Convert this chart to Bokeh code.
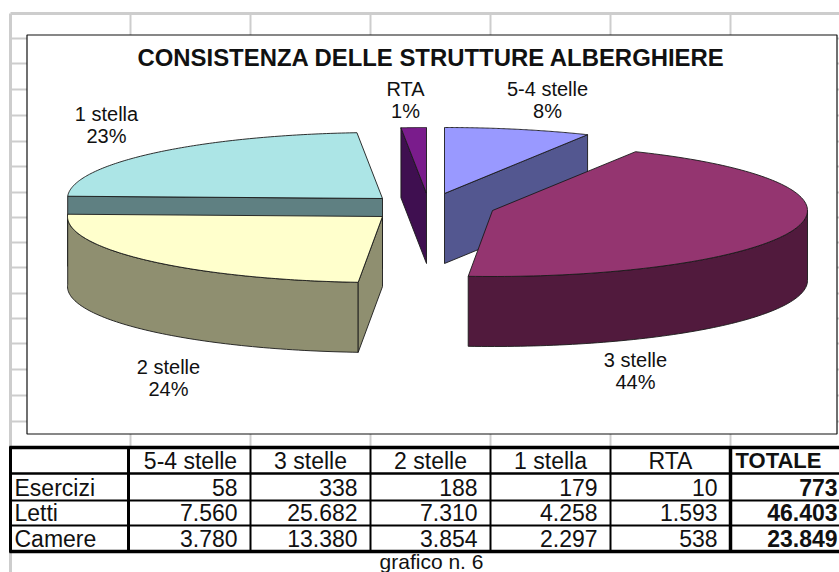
from bokeh.plotting import figure
from bokeh.models import Range1d
from bokeh.core.properties import value
from bokeh.embed import file_html
from bokeh.resources import INLINE
import numpy as np

# ---- data ----
categories = ["5-4 stelle", "3 stelle", "2 stelle", "1 stella", "RTA"]
esercizi = [58, 338, 188, 179, 10]
esercizi_txt = ["58", "338", "188", "179", "10", "773"]
letti_txt = ["7.560", "25.682", "7.310", "4.258", "1.593", "46.403"]
camere_txt = ["3.780", "13.380", "3.854", "2.297", "538", "23.849"]
row_names = ["Esercizi", "Letti", "Camere"]
total_label = "TOTALE"
title = "CONSISTENZA DELLE STRUTTURE ALBERGHIERE"
caption = "grafico n. 6"

# ---- layout / style ----
FONT = "Liberation Sans"
A, B, D = 315.0, 66.0, 70.0
apex = {"5-4 stelle": (444, 193), "3 stelle": (492, 210), "2 stelle": (382, 216),
        "1 stella": (382, 198), "RTA": (426, 193)}
top_col = {"5-4 stelle": "#9999FF", "3 stelle": "#943570", "2 stelle": "#FFFFCC",
           "1 stella": "#ACE5E6", "RTA": "#7A1C8C"}
side_col = {"5-4 stelle": "#535790", "3 stelle": "#511A3D", "2 stelle": "#8F8F70",
            "1 stella": "#5F8082", "RTA": "#3F0F50"}
label_pos = {"5-4 stelle": (547, 88), "3 stelle": (635, 359), "2 stelle": (168, 366),
             "1 stella": (106, 113), "RTA": (405, 88)}

p = figure(width=839, height=572, x_range=Range1d(0, 839), y_range=Range1d(572, 0),
           x_axis_type=None, y_axis_type=None, toolbar_location=None,
           output_backend="svg", min_border=0, outline_line_color=None,
           background_fill_color="white", border_fill_color="white")
p.grid.visible = False

GRID = "#CDCDCD"
# sheet gridlines behind the chart
col_x = [130, 250, 370, 490, 610, 730]
p.segment(x0=[10], y0=[13], x1=[839], y1=[13], line_color=GRID, line_width=3)
p.segment(x0=[10], y0=[13], x1=[10], y1=[572], line_color=GRID, line_width=3)
p.segment(x0=col_x, y0=[13] * 6, x1=col_x, y1=[447] * 6, line_color=GRID, line_width=2)
row_y = [38, 63, 89, 115, 141, 166, 192, 217, 242, 267, 293, 318, 343, 369, 395, 421]
p.segment(x0=[10] * 16, y0=row_y, x1=[839] * 16, y1=row_y, line_color=GRID, line_width=2)

# chart area
p.quad(left=[26.5], right=[836.5], top=[34.5], bottom=[433.5], fill_color="white",
       line_color="#111111", line_width=1.2)

# pie
total = sum(esercizi)
starts = {}
cum = 0.0
for c, v in zip(categories, esercizi):
    starts[c] = (cum, cum + 360.0 * v / total)
    cum += 360.0 * v / total


def rim(c, deg):
    t = np.radians(deg)
    return apex[c][0] + A * np.sin(t), apex[c][1] - B * np.cos(t)


def poly(xs, ys, col):
    p.patch(list(xs), list(ys), fill_color=col, line_color="#1a1a1a", line_width=0.9)


def cut_face(c, deg):
    ax, ay = apex[c]
    rx, ry = rim(c, deg)
    poly([ax, rx, rx, ax], [ay, ry, ry + D, ay + D], side_col[c])


def wall(c, a0, a1):
    ts = np.linspace(a0, a1, 80)
    xs, ys = rim(c, ts)
    poly(np.r_[xs, xs[::-1]], np.r_[ys, ys[::-1] + D], side_col[c])


def top(c):
    a0, a1 = starts[c]
    ts = np.linspace(a0, a1, 120)
    xs, ys = rim(c, ts)
    poly(np.r_[apex[c][0], xs], np.r_[apex[c][1], ys], top_col[c])


# back to front
cut_face("RTA", starts["RTA"][0])
top("RTA")
cut_face("5-4 stelle", starts["5-4 stelle"][1])
top("5-4 stelle")
cut_face("1 stella", starts["1 stella"][0])
top("1 stella")
wall("2 stelle", starts["2 stelle"][0], starts["2 stelle"][1])
cut_face("2 stelle", starts["2 stelle"][0])
top("2 stelle")
wall("3 stelle", 90.0, starts["3 stelle"][1])
top("3 stelle")


def txt(x, y, s, size=18, align="center", bold=False):
    p.text(x=[x], y=[y], text=[s], text_font=value(FONT), text_font_size=f"{size}px",
           text_align=align, text_baseline="middle", text_color="#111111",
           text_font_style="bold" if bold else "normal")


txt(431, 57, title, size=23.9, bold=True)
for c, v in zip(categories, esercizi):
    lx, ly = label_pos[c]
    txt(lx, ly, c, size=20)
    txt(lx, ly + 22, f"{round(100 * v / total)}%", size=20)

# table
LW = "#000000"
p.quad(left=[10], right=[839], top=[447], bottom=[551], fill_color="white", line_color=None)
seg_x = [128, 250, 370, 490, 610, 730]
seg_w = [3, 2, 2, 2, 2, 3.5]
for x, w in zip(seg_x, seg_w):
    p.segment(x0=[x], y0=[447], x1=[x], y1=[551], line_color=LW, line_width=w)
p.segment(x0=[10], y0=[446], x1=[10], y1=[552], line_color=LW, line_width=3)
for y, w in zip([447, 473, 500, 525, 551], [3.5, 2.5, 2, 2, 3.5]):
    p.segment(x0=[9], y0=[y], x1=[839], y1=[y], line_color=LW, line_width=w)

TS = 23
head_cx = [190, 310, 430, 550, 670]
for x, c in zip(head_cx, categories):
    txt(x, 460, c, size=TS)
txt(735, 460, total_label, size=TS - 1, align="left", bold=True)
right_x = [237, 357, 477, 597, 717, 837]
for y, name, row in zip([487, 512, 538], row_names, [esercizi_txt, letti_txt, camere_txt]):
    txt(14, y, name, size=TS, align="left")
    for i, (x, s) in enumerate(zip(right_x, row)):
        txt(x, y, s, size=TS, align="right", bold=(i == 5))
txt(431, 561, caption, size=21)

open("out.html", "w").write(file_html(p, INLINE))
